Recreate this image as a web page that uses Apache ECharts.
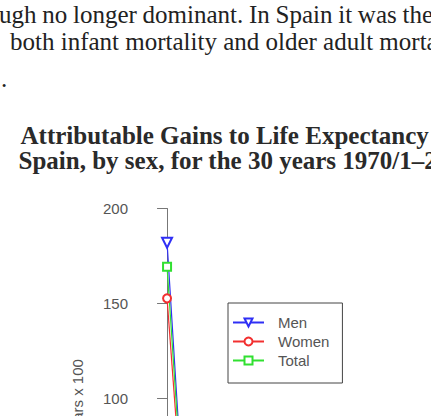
<!DOCTYPE html>
<html>
<head>
<meta charset="utf-8">
<script src="https://cdn.jsdelivr.net/npm/echarts@6/dist/echarts.min.js"></script>
<style>
html,body{margin:0;padding:0;background:#fff;}
#c{width:431px;height:416px;}
</style>
</head>
<body>
<div id="c"></div>
<script>
// ---- data ----
const seriesNames = ['Men', 'Women', 'Total'];
const ageIndex = [0, 1];               // first two age groups (only the first is fully visible)
const menValues = [182, 6];
const womenValues = [152.7, 4];
const totalValues = [169.4, 5];
const yTicks = [0, 50, 100, 150, 200];
const yAxisTitle = 'Years x 100';
const bodyLine1Words = ['ugh', 'no', 'longer', 'dominant.', 'In', 'Spain', 'it', 'was', 'the'];
const bodyLine2 = 'both infant mortality and older adult morta';
const bodyLine3 = '.';
const titleLines = [
  'Attributable Gains to Life Expectancy',
  'Spain, by sex, for the 30 years 1970/1\u20132000/1'
];

const colors = {Men: '#2f2ff5', Women: '#f23030', Total: '#30e030'};
const symbols = {Men: 'emptyTriangle', Women: 'emptyCircle', Total: 'emptyRect'};
const rotations = {Men: 180, Women: 0, Total: 0};
const sizes = {Men: 10, Women: 8, Total: 8};
const valuesBy = {Men: menValues, Women: womenValues, Total: totalValues};

const chart = echarts.init(document.getElementById('c'), null, {renderer: 'svg'});

const serif = '"Liberation Serif", "Times New Roman", serif';
const sans = '"Liberation Sans", Arial, Helvetica, sans-serif';
const bodyFont = '25px ' + serif;

const graphics = [];
// justified first line: spread the words so the line ends at the page edge
const ctx = document.createElement('canvas').getContext('2d');
ctx.font = bodyFont;
const wordW = bodyLine1Words.map(w => ctx.measureText(w).width);
const spaceW = ctx.measureText(' ').width;
const lineStart = -1, lineEnd = 433;
const natural = wordW.reduce((a, b) => a + b, 0) + spaceW * (bodyLine1Words.length - 1);
const extra = (lineEnd - lineStart - natural) / (bodyLine1Words.length - 1);
let cx = lineStart;
bodyLine1Words.forEach((w, i) => {
  graphics.push({
    type: 'text', x: cx, y: 14,
    style: {text: w, font: bodyFont, fill: '#222', textAlign: 'left', textVerticalAlign: 'middle'}
  });
  cx += wordW[i] + spaceW + extra;
});
graphics.push({
  type: 'text', x: 10, y: 41,
  style: {text: bodyLine2, font: bodyFont, fill: '#222', textAlign: 'left', textVerticalAlign: 'middle'}
});
graphics.push({
  type: 'text', x: 1, y: 78,
  style: {text: bodyLine3, font: bodyFont, fill: '#222', textAlign: 'left', textVerticalAlign: 'middle'}
});
const titlePos = [{x: 20.5, y: 135}, {x: 18.5, y: 160}];
titleLines.forEach((t, i) => {
  graphics.push({
    type: 'text', x: titlePos[i].x, y: titlePos[i].y,
    style: {text: t, font: 'bold 25px ' + serif, fill: '#2a2a2a', textAlign: 'left', textVerticalAlign: 'middle'}
  });
});

const option = {
  animation: false,
  backgroundColor: '#fff',
  graphic: graphics,
  grid: {left: 149, top: 208.5, width: 375, height: 380, containLabel: false, outerBoundsMode: 'none'},
  xAxis: {type: 'value', min: -0.86, max: 17, show: false},
  yAxis: {
    type: 'value', min: yTicks[0], max: yTicks[yTicks.length - 1], interval: 50,
    name: yAxisTitle, nameLocation: 'middle', nameGap: 64, nameRotate: 90,
    nameTextStyle: {fontFamily: sans, fontSize: 15, color: '#555'},
    axisLine: {show: true, lineStyle: {color: '#777', width: 1}},
    axisTick: {show: true, length: 10, lineStyle: {color: '#777', width: 1}},
    axisLabel: {fontFamily: sans, fontSize: 15, color: '#555', margin: 21},
    splitLine: {show: false}
  },
  legend: {
    data: seriesNames,
    orient: 'vertical', left: 228, top: 303,
    borderColor: '#444', borderWidth: 1, borderRadius: 0,
    padding: [10, 13, 13, 4],
    itemWidth: 31, itemHeight: 10, itemGap: 0,
    textStyle: {fontFamily: sans, fontSize: 15, color: '#555', lineHeight: 19, padding: [0, 0, 0, 9]}
  },
  series: seriesNames.map(n => ({
    name: n, type: 'line',
    data: ageIndex.map((a, i) => [a, valuesBy[n][i]]),
    symbol: symbols[n], symbolSize: sizes[n], symbolRotate: rotations[n],
    color: colors[n],
    itemStyle: {color: colors[n], borderWidth: 1.2},
    lineStyle: {color: colors[n], width: 1.2},
    clip: true
  }))
};
chart.setOption(option);
</script>
</body>
</html>
